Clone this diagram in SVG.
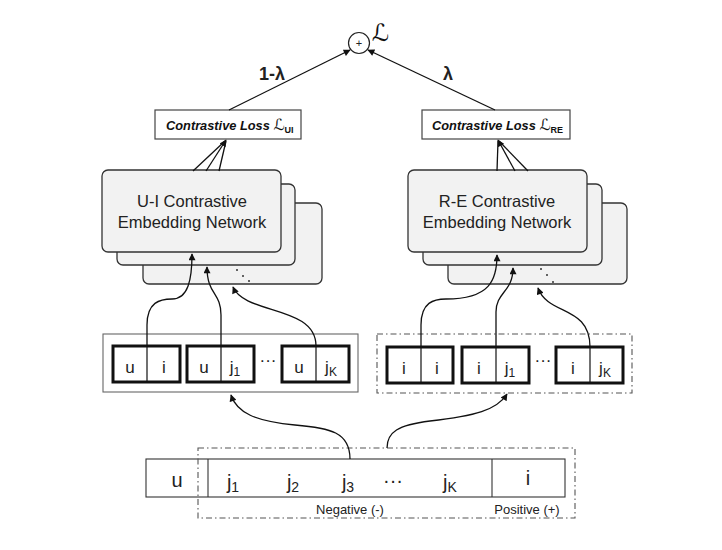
<svg xmlns="http://www.w3.org/2000/svg" width="722" height="550" viewBox="0 0 722 550">
<defs>
<marker id="ah" viewBox="0 0 10 10" refX="9" refY="5" markerWidth="8" markerHeight="7" markerUnits="userSpaceOnUse" orient="auto">
<path d="M0,0 L10,5 L0,10 z" fill="#111"/>
</marker>
<style>
.t{font-family:"Liberation Sans",Arial,sans-serif;fill:#222}
.net{fill:#f2f2f2;stroke:#333;stroke-width:1.3}
.loss{fill:#fff;stroke:#444;stroke-width:1.2}
.pair{fill:#fff;stroke:#111;stroke-width:3}
.div{stroke:#111;stroke-width:1.2}
.dd{fill:none;stroke:#555;stroke-width:1.1;stroke-dasharray:6 3 1.5 3}
.c{fill:none;stroke:#111;stroke-width:1.3}
.lbl{font-family:"Liberation Sans",Arial,sans-serif;font-size:12.8px;font-weight:bold;font-style:italic;fill:#111}
.sc{font-family:"DejaVu Serif","DejaVu Sans",serif;font-style:italic}
.pt{font-family:"Liberation Sans",Arial,sans-serif;font-size:17px;fill:#222;text-anchor:middle}
.bt{font-family:"Liberation Sans",Arial,sans-serif;font-size:20px;fill:#222;text-anchor:middle}
.dot{fill:#333}
</style>
</defs>
<rect width="722" height="550" fill="#fff"/>

<g id="sum">
<circle cx="359" cy="43" r="10.5" fill="#fff" stroke="#222" stroke-width="1.2"/>
<text x="359" y="47" class="t" font-size="11" text-anchor="middle" fill="#2f4f8f">+</text>
<text x="372" y="41" class="sc" font-size="24" fill="#111">ℒ</text>
</g>

<g id="loss-ui">
<rect x="155" y="110" width="146" height="29" class="loss"/>
<text x="166" y="130" class="lbl">Contrastive Loss <tspan class="sc" font-size="15.5" font-weight="normal">ℒ</tspan><tspan font-size="9" font-style="normal" dy="3">UI</tspan></text>
</g>
<g id="loss-re">
<rect x="422" y="110" width="148" height="29" class="loss"/>
<text x="432" y="130" class="lbl">Contrastive Loss <tspan class="sc" font-size="15.5" font-weight="normal">ℒ</tspan><tspan font-size="9" font-style="normal" dy="3">RE</tspan></text>
</g>

<g id="net-ui">
<rect x="143" y="203" width="179" height="81" rx="6" class="net"/>
<rect x="117" y="184" width="178" height="81" rx="6" class="net"/>
<rect x="102" y="170" width="179" height="82" rx="6" class="net"/>
<text x="192" y="207" class="t" font-size="16.5" text-anchor="middle">U-I Contrastive</text>
<text x="192" y="228" class="t" font-size="16.5" text-anchor="middle">Embedding Network</text>
<circle cx="237" cy="270" r="1" class="dot"/>
<circle cx="243" cy="276" r="1" class="dot"/>
<circle cx="249" cy="281" r="1" class="dot"/>
</g>

<g id="net-re">
<rect x="448" y="203" width="179" height="81" rx="6" class="net"/>
<rect x="423" y="184" width="179" height="81" rx="6" class="net"/>
<rect x="408" y="170" width="179" height="82" rx="6" class="net"/>
<text x="497" y="207" class="t" font-size="16.5" text-anchor="middle">R-E Contrastive</text>
<text x="497" y="228" class="t" font-size="16.5" text-anchor="middle">Embedding Network</text>
<circle cx="541" cy="269" r="1" class="dot"/>
<circle cx="547" cy="275" r="1" class="dot"/>
<circle cx="553" cy="282" r="1" class="dot"/>
</g>

<g id="pairs-ui">
<rect x="103" y="334" width="255" height="58" fill="#fff" stroke="#666" stroke-width="1.1"/>
<rect x="113" y="346" width="67" height="36" class="pair"/>
<line x1="147" y1="346" x2="147" y2="382" class="div"/>
<text x="130" y="373" class="pt">u</text>
<text x="164" y="373" class="pt">i</text>
<rect x="187" y="346" width="67" height="36" class="pair"/>
<line x1="221" y1="346" x2="221" y2="382" class="div"/>
<text x="204" y="373" class="pt">u</text>
<text x="235" y="373" class="pt">j<tspan font-size="12" dy="3">1</tspan></text>
<text x="268" y="366" class="pt" font-size="14">···</text>
<rect x="282" y="346" width="67" height="36" class="pair"/>
<line x1="316" y1="346" x2="316" y2="382" class="div"/>
<text x="299" y="373" class="pt">u</text>
<text x="331" y="373" class="pt">j<tspan font-size="12" dy="3">K</tspan></text>
</g>

<g id="pairs-re">
<rect x="377" y="334" width="255" height="59" class="dd"/>
<rect x="387" y="347" width="66" height="36" class="pair"/>
<line x1="421" y1="347" x2="421" y2="383" class="div"/>
<text x="404" y="374" class="pt">i</text>
<text x="437" y="374" class="pt">i</text>
<rect x="462" y="347" width="67" height="36" class="pair"/>
<line x1="496" y1="347" x2="496" y2="383" class="div"/>
<text x="479" y="374" class="pt">i</text>
<text x="510" y="374" class="pt">j<tspan font-size="12" dy="3">1</tspan></text>
<text x="543" y="366" class="pt" font-size="14">···</text>
<rect x="556" y="347" width="67" height="36" class="pair"/>
<line x1="590" y1="347" x2="590" y2="383" class="div"/>
<text x="573" y="374" class="pt">i</text>
<text x="605" y="374" class="pt">j<tspan font-size="12" dy="3">K</tspan></text>
</g>

<g id="samples">
<rect x="146" y="459" width="419" height="38" fill="#fff" stroke="#333" stroke-width="1.1"/>
<line x1="208" y1="459" x2="208" y2="497" stroke="#333" stroke-width="1.1"/>
<line x1="492" y1="459" x2="492" y2="497" stroke="#333" stroke-width="1.1"/>
<rect x="198" y="448" width="377" height="70" class="dd"/>
<text x="177" y="487" class="bt">u</text>
<text x="233" y="489" class="bt">j<tspan font-size="14" dy="3">1</tspan></text>
<text x="293" y="489" class="bt">j<tspan font-size="14" dy="3">2</tspan></text>
<text x="348" y="489" class="bt">j<tspan font-size="14" dy="3">3</tspan></text>
<text x="393" y="487" class="bt" font-size="16">···</text>
<text x="450" y="489" class="bt">j<tspan font-size="14" dy="3">K</tspan></text>
<text x="528" y="485" class="bt">i</text>
<text x="350" y="514" class="t" font-size="13" text-anchor="middle">Negative (-)</text>
<text x="527" y="514" class="t" font-size="13" text-anchor="middle">Positive (+)</text>
</g>

<g id="connectors">
<line x1="229" y1="110" x2="350" y2="50" class="c" marker-end="url(#ah)"/>
<line x1="495" y1="110" x2="368" y2="50" class="c" marker-end="url(#ah)"/>
<text x="272" y="80" class="t" font-size="18" font-weight="bold" text-anchor="middle">1-λ</text>
<text x="448" y="80" class="t" font-size="18" font-weight="bold" text-anchor="middle">λ</text>

<line x1="193" y1="171" x2="225" y2="141" class="c" stroke-width="1"/>
<line x1="206" y1="171" x2="226" y2="140" class="c" stroke-width="1" marker-end="url(#ah)"/>
<line x1="219" y1="171" x2="226" y2="141" class="c" stroke-width="1"/>
<line x1="497" y1="171" x2="498" y2="141" class="c" stroke-width="1"/>
<line x1="515" y1="171" x2="498" y2="140" class="c" stroke-width="1" marker-end="url(#ah)"/>
<line x1="528" y1="171" x2="499" y2="141" class="c" stroke-width="1"/>

<path d="M147,346 L147,325 C147,302 160,299 172,299 C188,299 192,280 192,254" class="c" marker-end="url(#ah)"/>
<path d="M221,346 L221,315 C221,292 207,295 207,267" class="c" marker-end="url(#ah)"/>
<path d="M316,346 C316,305 245,315 233,287" class="c" marker-end="url(#ah)"/>

<path d="M421,347 L421,325 C421,302 434,299 446,299 C490,299 497,280 497,255" class="c" marker-end="url(#ah)"/>
<path d="M496,347 L496,312 C496,292 513,292 513,268" class="c" marker-end="url(#ah)"/>
<path d="M590,347 C590,305 548,316 538,288" class="c" marker-end="url(#ah)"/>

<path d="M350,459 C350,432 330,428 295,425 C255,421 237,413 231,395" class="c" marker-end="url(#ah)"/>
<path d="M387,448 C387,432 398,425 430,421 C475,416 497,410 507,394" class="c" marker-end="url(#ah)"/>
</g>
</svg>
